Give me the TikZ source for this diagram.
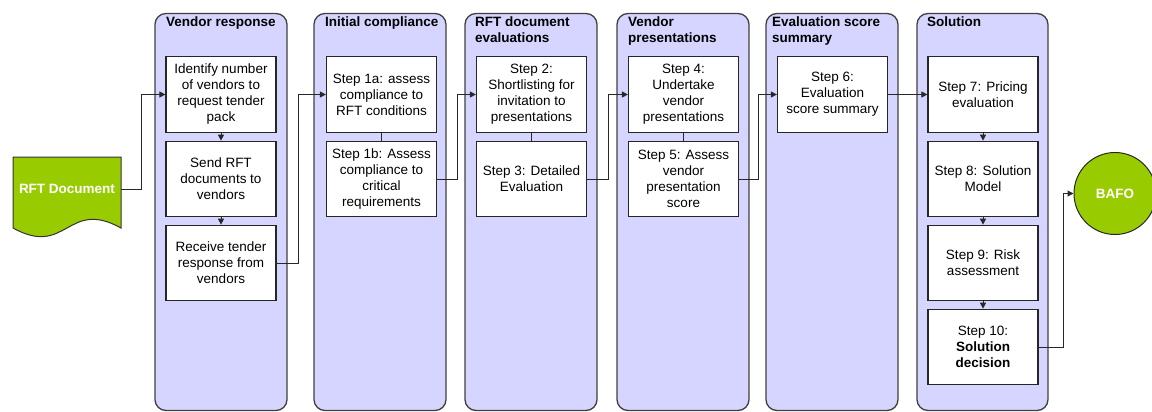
\documentclass[tikz,border=0pt]{standalone}
\usepackage{fontspec}
\setmainfont{Liberation Sans}
\usetikzlibrary{arrows.meta}
\definecolor{lanefill}{RGB}{213,213,255}
\definecolor{laneline}{RGB}{64,64,64}
\definecolor{docgreen}{RGB}{153,204,0}
\definecolor{wire}{RGB}{40,40,40}
\tikzset{
  lane/.style={fill=lanefill, draw=laneline, line width=1.3pt, rounded corners=11pt},
  lanetitle/.style={anchor=north west, inner sep=0pt, align=left,
    font=\fontsize{13.5}{16}\selectfont\bfseries},
  stepbox/.style={draw=black!85, fill=white, line width=1.2pt,
    minimum width=110pt, minimum height=75.5pt, inner sep=0pt, align=center,
    font=\fontsize{13.5}{16}\selectfont},
  conn/.style={draw=wire, line width=1pt},
  arr/.style={conn, -{Triangle[length=6pt,width=6pt]}},
  doctext/.style={minimum width=108pt, minimum height=64pt, inner sep=0pt,
    text=white, font=\fontsize{13.5}{16}\selectfont\bfseries},
  endpoint/.style={circle, fill=docgreen, draw=black!85, line width=1pt,
    minimum size=82pt, inner sep=0pt, text=white,
    font=\fontsize{13.5}{16}\selectfont\bfseries}
}
\begin{document}
\begin{tikzpicture}[x=1pt, y=-1pt]
\useasboundingbox (0,0) rectangle (1152,412);

% swimlanes
\draw[lane] (155,13.5) rectangle (287,410.5);
\draw[lane] (314,13.5) rectangle (446,410.5);
\draw[lane] (465,13.5) rectangle (597,410.5);
\draw[lane] (617,13.5) rectangle (749,410.5);
\draw[lane] (766,13.5) rectangle (898,410.5);
\draw[lane] (917,13.5) rectangle (1048,410.5);

% lane titles
\node[lanetitle] (t1) at (166,16.5) {Vendor response};
\node[lanetitle] (t2) at (325,16.5) {Initial compliance};
\node[lanetitle] (t3) at (475,16.5) {RFT document\\evaluations};
\node[lanetitle] (t4) at (628,16.5) {Vendor\\presentations};
\node[lanetitle] (t5) at (772,16.5) {Evaluation score\\summary};
\node[lanetitle] (t6) at (927,16.5) {Solution};

% input document
\fill[docgreen, draw=black!80, line width=1pt]
  (13,157) -- (121,157) -- (121,228)
  .. controls (67,198) and (67,258) .. (13,228) -- cycle;
\node[doctext] (doc) at (67,189) {RFT Document};

% vendor response
\node[stepbox] (b11) at (221,94.5) {Identify number\\of vendors to\\request tender\\pack};
\node[stepbox] (b12) at (221,179) {Send RFT\\documents to\\vendors};
\node[stepbox] (b13) at (221,263) {Receive tender\\response from\\vendors};

% initial compliance
\node[stepbox] (b21) at (381.5,94.5) {Step 1a: assess\\compliance to\\RFT conditions};
\node[stepbox] (b22) at (381.5,179) {Step 1b: Assess\\compliance to\\critical\\requirements};

% RFT document evaluations
\node[stepbox] (b31) at (531.5,94.5) {Step 2:\\Shortlisting for\\invitation to\\presentations};
\node[stepbox] (b32) at (531.5,179) {Step 3: Detailed\\Evaluation};

% vendor presentations
\node[stepbox] (b41) at (683.5,94.5) {Step 4:\\Undertake\\vendor\\presentations};
\node[stepbox] (b42) at (683.5,179) {Step 5: Assess\\vendor\\presentation\\score};

% evaluation score summary
\node[stepbox] (b51) at (832.5,94.5) {Step 6:\\Evaluation\\score summary};

% solution
\node[stepbox] (b61) at (983,94.5) {Step 7: Pricing\\evaluation};
\node[stepbox] (b62) at (983,179) {Step 8: Solution\\Model};
\node[stepbox] (b63) at (983,263) {Step 9: Risk\\assessment};
\node[stepbox] (b64) at (983,347) {Step 10:\\\textbf{Solution}\\\textbf{decision}};

% outcome
\node[endpoint] (bafo) at (1115,193.5) {BAFO};

% flow inside lanes
\draw[arr] (b11) -- (b12);
\draw[arr] (b12) -- (b13);
\draw[conn] (b21) -- (b22);
\draw[conn] (b31) -- (b32);
\draw[conn] (b41) -- (b42);
\draw[arr] (b61) -- (b62);
\draw[arr] (b62) -- (b63);
\draw[arr] (b63) -- (b64);

% flow between lanes
\draw[arr] (doc.east) -- ++(20,0) |- (b11.west);
\draw[arr] (b13.east) -- ++(22,0) |- (b21.west);
\draw[arr] (b22.east) -- ++(20,0) |- (b31.west);
\draw[arr] (b32.east) -- ++(21,0) |- (b41.west);
\draw[arr] (b42.east) -- ++(19,0) |- (b51.west);
\draw[arr] (b51.east) -- (b61.west);
\draw[arr] (b64.east) -- ++(25,0) |- (bafo.west);
\end{tikzpicture}
\end{document}
